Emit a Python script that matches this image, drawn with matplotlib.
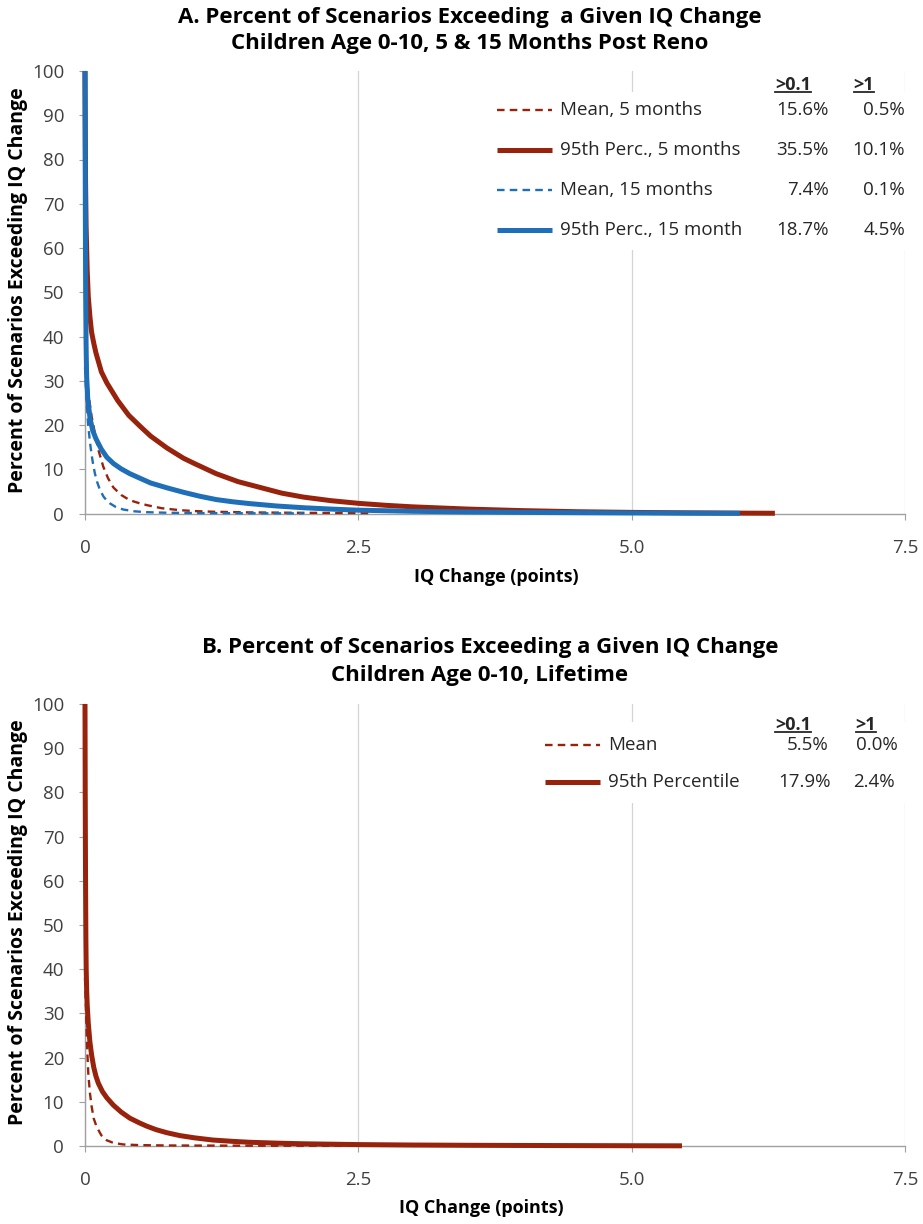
import matplotlib
matplotlib.use('Agg')
import matplotlib.pyplot as plt
from matplotlib.lines import Line2D
from matplotlib.patches import Rectangle

plt.rcParams['font.family'] = ['Open Sans', 'DejaVu Sans']

# ---- chart A: 5 and 15 months post renovation ----
a_p95_5_x = [0, 0.005, 0.01, 0.02, 0.03, 0.045, 0.06, 0.08, 0.1, 0.15, 0.2, 0.3, 0.4, 0.5, 0.6,
             0.75, 0.9, 1.0, 1.2, 1.4, 1.6, 1.8, 2.0, 2.25, 2.5, 2.75, 3.0, 3.5, 4.0, 4.5,
             5.0, 5.5, 6.0, 6.31]
a_p95_5_y = [100, 75, 65, 55, 49, 44.5, 41, 38.5, 36.3, 32, 29.5, 25.5, 22.2, 19.8, 17.5,
             14.8, 12.5, 11.3, 9.0, 7.2, 5.9, 4.6, 3.7, 2.9, 2.3, 1.85, 1.5, 1.0, 0.65, 0.4,
             0.25, 0.15, 0.08, 0.05]
a_p95_15_x = [0, 0.003, 0.006, 0.01, 0.015, 0.025, 0.046, 0.07, 0.1, 0.15, 0.2, 0.26, 0.33,
              0.41, 0.5, 0.6, 0.75, 0.9, 1.05, 1.2, 1.35, 1.5, 1.75, 2.0, 2.25, 2.5, 3.0,
              3.5, 4.0, 4.5, 5.0, 5.5, 5.99]
a_p95_15_y = [100, 70, 50, 38, 31, 26, 21.5, 18.8, 16.9, 14.5, 12.7, 11.3, 10.1,
              9.0, 8.0, 6.9, 5.8, 4.8, 3.9, 3.15, 2.65, 2.25, 1.7, 1.3, 1.0, 0.75, 0.5,
              0.35, 0.25, 0.18, 0.12, 0.08, 0.05]
a_mean_5_x = [0, 0.02, 0.04, 0.06, 0.091, 0.122, 0.167, 0.21, 0.259, 0.33, 0.41, 0.5, 0.564,
              0.7, 0.869, 1.0, 1.17, 1.5, 2.0, 2.6]
a_mean_5_y = [40, 30, 25.5, 22, 18.1, 14.4, 10.6, 8.0, 5.9, 4.2, 3.0, 2.3, 1.9,
              1.2, 0.75, 0.55, 0.4, 0.25, 0.15, 0.1]
a_mean_15_x = [0, 0.015, 0.03, 0.045, 0.061, 0.075, 0.091, 0.11, 0.137, 0.17, 0.2, 0.229,
               0.28, 0.35, 0.45, 0.56, 0.75, 1.0, 1.5, 2.0]
a_mean_15_y = [33, 25, 19.8, 16.2, 13.2, 11.0, 9.0, 7.2, 5.3, 3.8, 2.9, 2.27,
               1.5, 0.9, 0.5, 0.3, 0.17, 0.1, 0.05, 0.03]

a_labels = ['Mean, 5 months', '95th Perc., 5 months', 'Mean, 15 months', '95th Perc., 15 month']
a_gt01 = ['15.6%', '35.5%', '7.4%', '18.7%']
a_gt1 = ['0.5%', '10.1%', '0.1%', '4.5%']

# ---- chart B: lifetime ----
b_p95_x = [0, 0.002, 0.005, 0.008, 0.011, 0.015, 0.02, 0.03, 0.045, 0.061, 0.08, 0.1, 0.122,
           0.16, 0.2, 0.259, 0.33, 0.41, 0.5, 0.564, 0.65, 0.75, 0.869, 1.0, 1.17, 1.35,
           1.5, 1.75, 2.0, 2.5, 3.0, 3.5, 4.0, 4.5, 5.0, 5.46]
b_p95_y = [100, 80, 60, 47, 40, 35.4, 32, 27.8, 23.5, 20.5, 17.8, 15.8, 14.2,
           12.3, 10.9, 9.25, 7.7, 6.3, 5.2, 4.5, 3.7, 3.0, 2.35, 1.85, 1.35, 1.05,
           0.85, 0.65, 0.5, 0.32, 0.22, 0.16, 0.12, 0.09, 0.06, 0.04]
b_mean_x = [0, 0.01, 0.02, 0.03, 0.045, 0.061, 0.08, 0.107, 0.15, 0.198, 0.26, 0.35, 0.5,
            0.75, 1.0, 1.8, 2.5]
b_mean_y = [38, 30, 22, 16.5, 12, 8.9, 6.2, 4.3, 2.4, 1.3, 0.7, 0.35, 0.2,
            0.12, 0.1, 0.06, 0.04]

b_labels = ['Mean', '95th Percentile']
b_gt01 = ['5.5%', '17.9%']
b_gt1 = ['0.0%', '2.4%']

x_ticks = [0, 2.5, 5.0, 7.5]
x_ticklabels = ['0', '2.5', '5.0', '7.5']
y_ticks = list(range(0, 101, 10))

RED = '#98230c'
BLUE = '#1e6fb8'
TXT = '#262626'
W, H = 923, 1224
DASH = (0, (3.2, 2.2))
LW_SOLID = 3.6
LW_DASH = 1.7


def fx(px):
    return px / W


def fy(py):
    return 1 - py / H


def style_axes(ax):
    ax.set_xlim(0, 7.5)
    ax.set_ylim(0, 100)
    ax.set_xticks(x_ticks)
    ax.set_xticklabels(x_ticklabels)
    ax.set_yticks(y_ticks)
    ax.grid(axis='x', color='#d4d4d4', linewidth=0.9)
    ax.set_axisbelow(True)
    for s in ['top', 'right']:
        ax.spines[s].set_visible(False)
    for s in ['left', 'bottom']:
        ax.spines[s].set_color('#a0a0a0')
        ax.spines[s].set_linewidth(1.0)
    ax.tick_params(axis='y', length=4, color='#a0a0a0', labelsize=13.5, pad=11, labelcolor='#404040')
    ax.tick_params(axis='x', length=4, color='#a0a0a0', labelsize=13.5, pad=14, labelcolor='#404040')


def legend_table(box, styles, labels, col1, col2, line_x, rows_y, right1, right2, heads):
    # white panel like the Excel legend area, then keys, labels and the value columns
    x0, y0, x1, y1 = box
    fig.add_artist(Rectangle((fx(x0), fy(y1)), fx(x1) - fx(x0), fy(y0) - fy(y1), facecolor='white',
                             edgecolor='none', zorder=2))
    for (c, ls, lw), lab, v1, v2, ry, r1, r2 in zip(styles, labels, col1, col2, rows_y, right1, right2):
        fig.add_artist(Line2D([fx(line_x[0]), fx(line_x[1])], [fy(ry), fy(ry)], color=c,
                              linestyle=ls, linewidth=lw, solid_capstyle='butt', zorder=3))
        fig.text(fx(line_x[1] + 8), fy(ry), lab, ha='left', va='center', fontsize=13.5, color=TXT, zorder=3)
        fig.text(fx(r1), fy(ry), v1, ha='right', va='center', fontsize=13.5, color=TXT, zorder=3)
        fig.text(fx(r2), fy(ry), v2, ha='right', va='center', fontsize=13.5, color=TXT, zorder=3)
    for hx, hy, h in heads:
        fig.text(fx(hx), fy(hy), h, ha='center', va='center', fontsize=13, fontweight='bold',
                 color=TXT, zorder=3)


def curve(ax, x, y, color, dashed=False):
    # drawn above the spines so the steep start covers the axis line, as in Excel
    if dashed:
        ax.plot(x, y, color=color, lw=LW_DASH, linestyle=DASH, clip_on=False, zorder=3)
    else:
        ax.plot(x, y, color=color, lw=LW_SOLID, clip_on=False, solid_capstyle='butt',
                solid_joinstyle='round', zorder=3)


fig = plt.figure(figsize=(9.23, 12.24), dpi=100)

# chart A
axA = fig.add_axes([fx(85), fy(513.5), fx(905) - fx(85), fy(71) - fy(513.5)])
curve(axA, a_p95_5_x, a_p95_5_y, RED)
curve(axA, a_mean_5_x, a_mean_5_y, RED, dashed=True)
curve(axA, a_mean_15_x, a_mean_15_y, BLUE, dashed=True)
curve(axA, a_p95_15_x, a_p95_15_y, BLUE)
style_axes(axA)

fig.text(fx(470), fy(17), 'A. Percent of Scenarios Exceeding  a Given IQ Change', ha='center', va='center',
         fontsize=16, fontweight='bold')
fig.text(fx(470), fy(44), 'Children Age 0-10, 5 & 15 Months Post Reno', ha='center', va='center',
         fontsize=16, fontweight='bold')
fig.text(fx(18), fy(290), 'Percent of Scenarios Exceeding IQ Change', rotation=90, ha='center', va='center',
         fontsize=14, fontweight='bold')
fig.text(fx(496), fy(577), 'IQ Change (points)', ha='center', va='center', fontsize=13, fontweight='bold')

a_styles = [(RED, DASH, LW_DASH), (RED, '-', LW_SOLID), (BLUE, DASH, LW_DASH), (BLUE, '-', LW_SOLID)]
legend_table((490, 92, 915, 250), a_styles, a_labels, a_gt01, a_gt1, (497, 552),
             [110, 150, 190, 230], [829] * 4, [905] * 4, [(793, 85, '>0.1'), (864, 85, '>1')])

# chart B
axB = fig.add_axes([fx(85), fy(1146), fx(905) - fx(85), fy(704) - fy(1146)])
curve(axB, b_mean_x, b_mean_y, RED, dashed=True)
curve(axB, b_p95_x, b_p95_y, RED)
style_axes(axB)

fig.text(fx(490), fy(647), 'B. Percent of Scenarios Exceeding a Given IQ Change', ha='center', va='center',
         fontsize=16, fontweight='bold')
fig.text(fx(480), fy(675), 'Children Age 0-10, Lifetime', ha='center', va='center',
         fontsize=16, fontweight='bold')
fig.text(fx(18), fy(922), 'Percent of Scenarios Exceeding IQ Change', rotation=90, ha='center', va='center',
         fontsize=14, fontweight='bold')
fig.text(fx(481), fy(1208), 'IQ Change (points)', ha='center', va='center', fontsize=13, fontweight='bold')

b_styles = [(RED, DASH, LW_DASH), (RED, '-', LW_SOLID)]
legend_table((540, 722, 915, 803), b_styles, b_labels, b_gt01, b_gt1, (545, 600),
             [745, 782], [828, 831], [898, 895], [(793, 725, '>0.1'), (866, 725, '>1')])

# underline the column headers
fig.canvas.draw()
r = fig.canvas.get_renderer()
for t in list(fig.texts):
    if t.get_text() in ('>0.1', '>1'):
        bb = t.get_window_extent(r)
        y = bb.y0 + 2.5
        fig.add_artist(Line2D([bb.x0 / W, bb.x1 / W], [y / H, y / H], color=TXT, linewidth=1.3, zorder=3))

fig.savefig('out.png', dpi=100)
